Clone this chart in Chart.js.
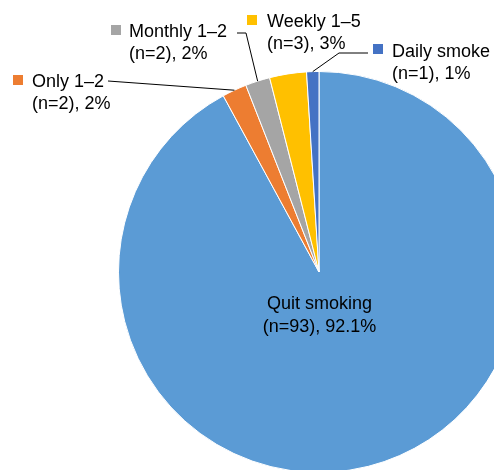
<!DOCTYPE html>
<html>
<head>
<meta charset="utf-8">
<script src="https://cdn.jsdelivr.net/npm/chart.js@4"></script>
<style>
  html, body { margin: 0; padding: 0; background: #fff; overflow: hidden; width: 494px; height: 470px; }
  #wrap { position: absolute; left: 0; top: 0; width: 638px; height: 544px; }
</style>
</head>
<body>
<div id="wrap"><canvas id="graficoPie" width="638" height="544"></canvas></div>
<script>
// datos (en orden horario desde las 12)
const categorias = ['Quit smoking', 'Only 1\u20132', 'Monthly 1\u20132', 'Weekly 1\u20135', 'Daily smoke'];
const cantidades = [93, 2, 2, 3, 1];
const porcentajes = ['92.1%', '2%', '2%', '3%', '1%'];
const colores = ['#5B9BD5', '#ED7D31', '#A5A5A5', '#FFC000', '#4472C4'];

// posicion de cada etiqueta (cuadro, texto, linea guia)
const posEtiquetas = [
    { center: 319.5, y1: 309, y2: 332 },
    { sq: [13, 75], tx: 32, y1: 87, y2: 109, line: [[108, 81]] },
    { sq: [111, 25], tx: 129, y1: 37, y2: 59, line: [[237, 33], [246, 33]] },
    { sq: [247, 15], tx: 267, y1: 27, y2: 49 },
    { sq: [373, 44], tx: 392, y1: 57, y2: 79, line: [[368, 53], [339, 53]] }
];

const etiquetasPlugin = {
    id: 'etiquetas',
    afterDraw(chart) {
        const ctx = chart.ctx;
        const arcs = chart.getDatasetMeta(0).data;
        ctx.save();
        ctx.font = '18px "Liberation Sans", Arial, sans-serif';
        ctx.fillStyle = '#000';
        ctx.textBaseline = 'alphabetic';
        arcs.forEach((arc, i) => {
            const p = posEtiquetas[i];
            const linea1 = categorias[i];
            const linea2 = '(n=' + cantidades[i] + '), ' + porcentajes[i];
            if (p.center !== undefined) {
                ctx.textAlign = 'center';
                ctx.fillText(linea1, p.center, p.y1);
                ctx.fillText(linea2, p.center, p.y2);
                return;
            }
            if (p.line) {
                const {x, y, startAngle, endAngle, outerRadius} = arc.getProps(['x', 'y', 'startAngle', 'endAngle', 'outerRadius'], true);
                const mid = (startAngle + endAngle) / 2;
                const ax = x + Math.cos(mid) * outerRadius;
                const ay = y + Math.sin(mid) * outerRadius;
                ctx.beginPath();
                ctx.strokeStyle = '#000';
                ctx.lineWidth = 1;
                ctx.moveTo(p.line[0][0], p.line[0][1]);
                for (let k = 1; k < p.line.length; k++) ctx.lineTo(p.line[k][0], p.line[k][1]);
                ctx.lineTo(ax, ay);
                ctx.stroke();
            }
            ctx.fillStyle = colores[i];
            ctx.fillRect(p.sq[0], p.sq[1], 10, 10);
            ctx.fillStyle = '#000';
            ctx.textAlign = 'left';
            ctx.fillText(linea1, p.tx, p.y1);
            ctx.fillText(linea2, p.tx, p.y2);
        });
        ctx.restore();
    }
};

const ctx = document.getElementById('graficoPie').getContext('2d');
const grafico = new Chart(ctx, {
    type: 'pie',
    data: {
        labels: categorias,
        datasets: [{
            data: cantidades,
            backgroundColor: colores,
            borderColor: '#ffffff',
            borderWidth: 1
        }]
    },
    options: {
        responsive: false,
        animation: false,
        devicePixelRatio: 1,
        layout: { padding: { left: 118, right: 118, top: 71, bottom: 71 } },
        plugins: {
            legend: { display: false },
            tooltip: { enabled: false }
        }
    },
    plugins: [etiquetasPlugin]
});
</script>
</body>
</html>
